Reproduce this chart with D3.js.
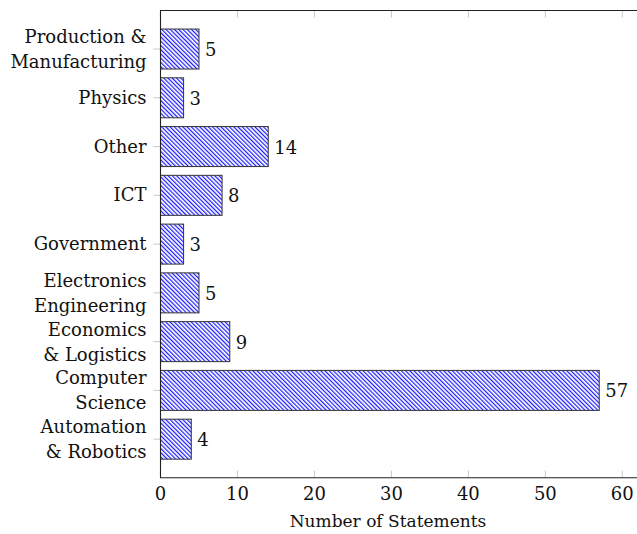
<!DOCTYPE html>
<html lang="en">
<head>
<meta charset="utf-8">
<script src="https://d3js.org/d3.v7.min.js"></script>
<style>
  body { margin: 0; background: #fff; overflow: hidden; }
  svg { display: block; }
</style>
</head>
<body>
<div id="chart"></div>
<script>
// data, top to bottom
var categories = [
  ["Production &", "Manufacturing"],
  ["Physics"],
  ["Other"],
  ["ICT"],
  ["Government"],
  ["Electronics", "Engineering"],
  ["Economics", "& Logistics"],
  ["Computer", "Science"],
  ["Automation", "& Robotics"]
];
var counts = [5, 3, 14, 8, 3, 5, 9, 57, 4];
var xTicks = [0, 10, 20, 30, 40, 50, 60];

var w = 637, h = 534;
var plotLeft = 160.5, plotTop = 10.5, plotBottom = 477.7;
var fontFam = "'DejaVu Serif', 'Liberation Serif', serif";
var fs = 18;

var svg = d3.select("#chart").append("svg")
  .attr("width", w).attr("height", h)
  .attr("font-family", fontFam);

// x axis runs past the right edge of the picture
var x = d3.scaleLinear().domain([0, 64]).range([plotLeft, plotLeft + 64 * 7.697]);
var y = d3.scaleLinear().domain([-0.79, categories.length - 1 + 0.79]).range([plotTop, plotBottom]);
var barH = 40;

// hatch pattern
var defs = svg.append("defs");
var pat = defs.append("pattern")
  .attr("id", "hatch")
  .attr("patternUnits", "userSpaceOnUse")
  .attr("width", 3).attr("height", 3)
  .attr("patternTransform", "rotate(-45)");
pat.append("rect").attr("width", 3).attr("height", 3).attr("fill", "#fff");
pat.append("line")
  .attr("x1", 0.6).attr("y1", 0).attr("x2", 0.6).attr("y2", 3)
  .attr("stroke", "#1a1aff").attr("stroke-width", 1.2);

// y tick marks (outside, grey)
svg.selectAll(".ytick").data(counts).enter().append("line")
  .attr("x1", plotLeft - 7).attr("x2", plotLeft)
  .attr("y1", (d, i) => y(i)).attr("y2", (d, i) => y(i))
  .attr("stroke", "#c8c8c8").attr("stroke-width", 1);

// x tick marks (inside, top & bottom)
xTicks.forEach(function(t) {
  if (t === 0) return;
  svg.append("line").attr("x1", x(t)).attr("x2", x(t))
    .attr("y1", plotBottom).attr("y2", plotBottom - 7)
    .attr("stroke", "#c8c8c8");
  svg.append("line").attr("x1", x(t)).attr("x2", x(t))
    .attr("y1", plotTop).attr("y2", plotTop + 7)
    .attr("stroke", "#c8c8c8");
});

// bars
svg.selectAll(".bar").data(counts).enter().append("rect")
  .attr("x", x(0))
  .attr("y", (d, i) => y(i) - barH / 2)
  .attr("width", d => x(d) - x(0))
  .attr("height", barH)
  .attr("fill", "url(#hatch)")
  .attr("stroke", "#333")
  .attr("stroke-width", 1);

// value labels
svg.selectAll(".val").data(counts).enter().append("text")
  .attr("x", d => x(d) + 6)
  .attr("y", (d, i) => y(i) + 7)
  .attr("font-size", fs)
  .attr("fill", "#111")
  .text(d => d);

// frame: left, top, bottom only (right side is off the picture)
svg.append("path")
  .attr("d", "M" + w + "," + plotTop + "H" + plotLeft + "V" + plotBottom + "H" + w)
  .attr("fill", "none").attr("stroke", "#222").attr("stroke-width", 1.1);

// category labels
categories.forEach(function(lines, i) {
  var t = svg.append("text")
    .attr("text-anchor", "end")
    .attr("font-size", fs)
    .attr("fill", "#111");
  var y0 = lines.length === 1 ? y(i) + 6 : y(i) - 6;
  lines.forEach(function(s, k) {
    t.append("tspan").attr("x", plotLeft - 14).attr("y", y0 + k * 25).text(s);
  });
});

// x tick labels
svg.selectAll(".xl").data(xTicks).enter().append("text")
  .attr("x", d => x(d))
  .attr("y", 500)
  .attr("text-anchor", "middle")
  .attr("font-size", fs)
  .attr("fill", "#111")
  .text(d => d);

svg.append("text")
  .attr("x", 388).attr("y", 527)
  .attr("text-anchor", "middle")
  .attr("font-size", 17)
  .attr("fill", "#111")
  .text("Number of Statements");
</script>
</body>
</html>
